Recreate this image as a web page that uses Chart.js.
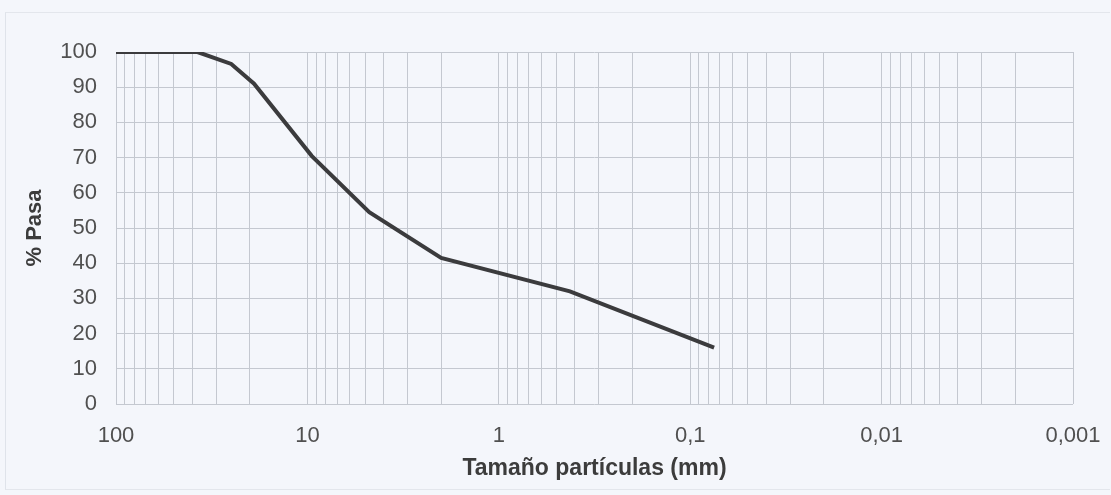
<!DOCTYPE html>
<html>
<head>
<meta charset="utf-8">
<script src="https://cdn.jsdelivr.net/npm/chart.js@4.4.1/dist/chart.umd.min.js"></script>
<style>
  html, body { margin: 0; padding: 0; background: #f4f6fb; }
  #marco { position: absolute; left: 5px; top: 12px; width: 1104px; height: 476px; border-left: 1px solid #dfe3ea; border-top: 1px solid #e3e6ec; border-bottom: 1px solid #e3e6ec; }
  #graficaGranulometria { position: absolute; left: 0; top: 0; }
</style>
</head>
<body>
<div id="marco"></div>
<canvas id="graficaGranulometria" width="1111" height="495"></canvas>
<script>
// tamaño de partícula (mm) y porcentaje que pasa
const tamanos = [100, 37.5, 25, 19, 9.5, 4.75, 2, 0.425, 0.075];
const pasa = [100, 100, 96.6, 91, 70.5, 54.5, 41.5, 32, 16];

// etiquetas del eje x (solo potencias de 10)
const xTickValues = [100, 10, 1, 0.1, 0.01, 0.001];
const xTickLabels = ['100', '10', '1', '0,1', '0,01', '0,001'];
const yTicks = [0, 10, 20, 30, 40, 50, 60, 70, 80, 90, 100];

// lineas de la cuadricula logaritmica: 1..9 en cada decada
const gridValues = [];
for (let e = -3; e <= 1; e++) {
  for (let m = 1; m <= 9; m++) gridValues.push(m * Math.pow(10, e));
}
gridValues.push(100);

document.addEventListener('DOMContentLoaded', function () {
  const ctx = document.getElementById('graficaGranulometria').getContext('2d');
  const colorRejilla = '#c4c8d0';
  const fuente = 'Liberation Sans, Arial, sans-serif';

  new Chart(ctx, {
    type: 'line',
    data: {
      datasets: [{
        data: tamanos.map((t, i) => ({ x: t, y: pasa[i] })),
        borderColor: '#3b3b3d',
        borderWidth: 4,
        pointRadius: 0,
        tension: 0,
        fill: false
      }]
    },
    options: {
      responsive: false,
      animation: false,
      layout: { padding: { top: 52, right: 38, left: 0, bottom: 0 } },
      scales: {
        x: {
          type: 'logarithmic',
          reverse: true,
          min: 0.001,
          max: 100,
          afterBuildTicks: function (scale) {
            scale.ticks = gridValues.map(v => ({ value: v, major: xTickValues.some(t => Math.abs(t - v) < 1e-9) }));
          },
          afterFit: function (scale) { scale.height = 91; },
          border: { display: false },
          grid: { color: colorRejilla, lineWidth: 1, drawTicks: false },
          ticks: {
            autoSkip: false,
            maxRotation: 0,
            padding: 19,
            color: '#505050',
            font: { family: fuente, size: 22 },
            callback: function (value) {
              const i = xTickValues.findIndex(t => Math.abs(t - value) < 1e-9);
              return i >= 0 ? xTickLabels[i] : '';
            }
          },
          title: {
            display: true,
            text: 'Tamaño partículas (mm)',
            color: '#3c3c3c',
            padding: { top: 2, bottom: 13 },
            font: { family: fuente, size: 23, weight: 'bold' }
          }
        },
        y: {
          min: 0,
          max: 100,
          afterBuildTicks: function (scale) {
            scale.ticks = yTicks.map(v => ({ value: v }));
          },
          afterFit: function (scale) { scale.width = 116; },
          border: { display: false },
          grid: { color: colorRejilla, lineWidth: 1, drawTicks: false },
          ticks: {
            padding: 19,
            color: '#505050',
            font: { family: fuente, size: 22 }
          },
          title: {
            display: true,
            text: '% Pasa',
            color: '#3c3c3c',
            padding: { top: 22, bottom: 0 },
            font: { family: fuente, size: 22, weight: 'bold' }
          }
        }
      },
      plugins: {
        legend: { display: false },
        tooltip: { enabled: false }
      }
    }
  });
});
</script>
</body>
</html>
